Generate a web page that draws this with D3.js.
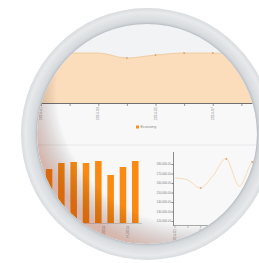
<!DOCTYPE html>
<html>
<head>
<meta charset="utf-8">
<script src="https://cdn.jsdelivr.net/npm/d3@7"></script>
<style>
  html, body { margin: 0; padding: 0; background: #fff; }
  svg { display: block; }
  text { font-family: "Liberation Sans", Arial, sans-serif; }
</style>
</head>
<body>
<svg id="chart"></svg>
<script>
// area chart (top)
var areaCats = ['2014-01', '2014-02', '2014-03', '2014-04', '2014-05', '2014-06', '2014-07', '2014-08', '2014-09'];
var areaVals = [96, 100, 100, 90, 96, 100, 100, 98, 98];
var areaTickLabels = ['2014-01', '2014-03', '2014-05', '2014-07'];
var legendLabel = 'Economy';

// bar chart (bottom left)
var barCats = ['A', 'B', 'C', 'D', 'E', 'F', 'G', 'H', 'I'];
var barVals = [60, 54, 60, 61, 60, 62, 48, 56, 62];
var barTickLabels = ['D', 'F', 'H'];

// line chart (bottom right)
var lineCats = ['1', '2', '3', '4', '5', '6', '7', '8'];
var lineVals = [165300, 163200, 154700, 168400, 185300, 156800, 182100, 184200];
var lineTicks = [120000, 130000, 140000, 150000, 160000, 170000, 180000];
var lineTickLabels = ['1', '3'];

var W = 259, H = 263;
var cx = 147, cy = 134, rOut = 126, rIn = 110;

var svg = d3.select('#chart').attr('width', W).attr('height', H);
var defs = svg.append('defs');

defs.append('clipPath').attr('id', 'inner')
  .append('circle').attr('cx', cx).attr('cy', cy).attr('r', rIn);

var ringGrad = defs.append('radialGradient').attr('id', 'ring')
  .attr('gradientUnits', 'userSpaceOnUse')
  .attr('cx', cx).attr('cy', cy).attr('r', rOut);
ringGrad.append('stop').attr('offset', rIn / rOut).attr('stop-color', '#c2c7cc');
ringGrad.append('stop').attr('offset', 0.9).attr('stop-color', '#d8dbde');
ringGrad.append('stop').attr('offset', 0.965).attr('stop-color', '#e7e9eb');
ringGrad.append('stop').attr('offset', 1).attr('stop-color', '#d9dcdf');

var shade = defs.append('radialGradient').attr('id', 'shade')
  .attr('gradientUnits', 'userSpaceOnUse')
  .attr('cx', cx + 45).attr('cy', cy - 45).attr('r', rIn + 55);
shade.append('stop').attr('offset', 0.82).attr('stop-color', '#000').attr('stop-opacity', 0);
shade.append('stop').attr('offset', 1).attr('stop-color', '#8a2000').attr('stop-opacity', 0.3);

var g = svg.append('g').attr('clip-path', 'url(#inner)');

// backgrounds
g.append('rect').attr('x', 0).attr('y', 0).attr('width', W).attr('height', H).attr('fill', '#f8f8f9');
g.append('rect').attr('x', 0).attr('y', 0).attr('width', W).attr('height', 103).attr('fill', '#f2f3f5');
g.append('line').attr('x1', 0).attr('x2', W).attr('y1', 145).attr('y2', 145)
  .attr('stroke', '#e6e7e9').attr('stroke-width', 1);

// ---- area chart ----
var ax = d3.scalePoint().domain(areaCats).range([41, 270]);
var ay = d3.scaleLinear().domain([0, 100]).range([103, 53]);

// one extra leading point so the fill reaches the left edge of the disc
var areaData = [areaVals[0]].concat(areaVals);
var extCats = ['pre'].concat(areaCats);
var ax2 = d3.scalePoint().domain(extCats).range([41 - ax.step(), 270]);

var area = d3.area()
  .x(function (d, i) { return ax2(extCats[i]); })
  .y0(ay(0))
  .y1(function (d) { return ay(d); })
  .curve(d3.curveMonotoneX);
var topLine = d3.line()
  .x(function (d, i) { return ax2(extCats[i]); })
  .y(function (d) { return ay(d); })
  .curve(d3.curveMonotoneX);

g.append('path').datum(areaData).attr('d', area).attr('fill', '#fbdcbb');
g.append('path').datum(areaData).attr('d', topLine)
  .attr('fill', 'none').attr('stroke', '#efc596').attr('stroke-width', 0.8);
g.selectAll('.adot').data(areaVals.slice(3, 7)).enter().append('circle')
  .attr('cx', function (d, i) { return ax(areaCats[i + 3]); })
  .attr('cy', function (d) { return ay(d); })
  .attr('r', 0.9).attr('fill', '#d9a672');

var aAxis = g.append('g').attr('transform', 'translate(0,103)')
  .call(d3.axisBottom(ax).tickSize(3).tickFormat(''));
aAxis.select('.domain').remove();
aAxis.selectAll('line').attr('stroke', '#999');
g.append('line').attr('x1', 0).attr('x2', W).attr('y1', 103.5).attr('y2', 103.5)
  .attr('stroke', '#6f6f6f').attr('stroke-width', 1);
g.selectAll('.alab').data(areaTickLabels).enter().append('text')
  .attr('transform', function (d) { return 'translate(' + (ax(d) + 1) + ',107) rotate(-90)'; })
  .attr('text-anchor', 'end').attr('font-size', 3.6).attr('fill', '#8a8a8a').text(function (d) { return d; });

// legend
g.append('rect').attr('x', 136).attr('y', 125.5).attr('width', 3).attr('height', 3).attr('fill', '#f5921e');
g.append('text').attr('x', 140.5).attr('y', 128.4).attr('font-size', 3.8).attr('fill', '#8b8b8b').text(legendLabel);

// ---- bar chart ----
var bx = d3.scaleBand().domain(barCats).range([31, 141]).paddingInner(0.47).paddingOuter(0.2);
var by = d3.scaleLinear().domain([0, 100]).range([223, 123]);

g.selectAll('.bar').data(barVals).enter().append('rect')
  .attr('x', function (d, i) { return bx(barCats[i]); })
  .attr('y', function (d) { return by(d); })
  .attr('width', bx.bandwidth())
  .attr('height', function (d) { return by(0) - by(d); })
  .attr('fill', '#fa8a12');

g.append('line').attr('x1', 30).attr('x2', 142).attr('y1', 223.5).attr('y2', 223.5)
  .attr('stroke', '#c9c9c9').attr('stroke-width', 0.8);
g.selectAll('.blab').data(barTickLabels).enter().append('text')
  .attr('transform', function (d) { return 'translate(' + (bx(d) + bx.bandwidth() + 3) + ',226) rotate(-90)'; })
  .attr('text-anchor', 'end').attr('font-size', 3.6).attr('fill', '#8a8a8a').text(function (d) { return d + '-2014'; });

// ---- line chart ----
var lx = d3.scalePoint().domain(lineCats).range([175, 265]);
var ly = d3.scaleLinear().domain([120000, 180000]).range([221, 164]);

var yAx = g.append('g').attr('transform', 'translate(173.5,0)')
  .call(d3.axisLeft(ly).tickValues(lineTicks).tickSize(2)
    .tickFormat(function (d) { return d3.format(',.2f')(d); }));
yAx.select('.domain').remove();
yAx.selectAll('line').attr('stroke', '#888');
yAx.selectAll('text').attr('font-size', 2.9).attr('fill', '#7c7c7c').attr('x', -2.5);
g.append('line').attr('x1', 173.5).attr('x2', 173.5).attr('y1', 152).attr('y2', 226)
  .attr('stroke', '#6f6f6f').attr('stroke-width', 0.8);
g.append('line').attr('x1', 173).attr('x2', 224).attr('y1', 225.5).attr('y2', 225.5)
  .attr('stroke', '#8a8a8a').attr('stroke-width', 0.7);
g.selectAll('.ltick').data(lineTickLabels.concat(['2'])).enter().append('line')
  .attr('x1', function (d) { return lx(d); }).attr('x2', function (d) { return lx(d); })
  .attr('y1', 225.5).attr('y2', 228).attr('stroke', '#999').attr('stroke-width', 0.6);
g.selectAll('.llab').data(lineTickLabels).enter().append('text')
  .attr('transform', function (d) { return 'translate(' + (lx(d) + 1.2) + ',229) rotate(-90)'; })
  .attr('text-anchor', 'end').attr('font-size', 3.6).attr('fill', '#8a8a8a').text(function (d) { return '2014-0' + d; });

var lineGen = d3.line()
  .x(function (d, i) { return lx(lineCats[i]); })
  .y(function (d) { return ly(d); })
  .curve(d3.curveCardinal);
g.append('path').datum(lineVals).attr('d', lineGen)
  .attr('fill', 'none').attr('stroke', '#f7d2a6').attr('stroke-width', 0.8);
g.selectAll('.ldot').data([2, 4, 6]).enter().append('circle')
  .attr('cx', function (i) { return lx(lineCats[i]); })
  .attr('cy', function (i) { return ly(lineVals[i]); })
  .attr('r', 0.9).attr('fill', '#d8a46e');

// inner edge shading, strongest bottom-left
g.append('circle').attr('cx', cx).attr('cy', cy).attr('r', rIn).attr('fill', 'url(#shade)');

// ---- bezel ring ----
var ringPath = d3.path();
ringPath.arc(cx, cy, rOut, 0, Math.PI * 2);
ringPath.moveTo(cx + rIn, cy);
ringPath.arc(cx, cy, rIn, 0, Math.PI * 2, true);
svg.append('path').attr('d', ringPath.toString()).attr('fill', 'url(#ring)').attr('fill-rule', 'evenodd');
svg.append('circle').attr('cx', cx).attr('cy', cy).attr('r', rIn + 0.5)
  .attr('fill', 'none').attr('stroke', '#b3b9bf').attr('stroke-width', 0.8).attr('opacity', 0.6);
</script>
</body>
</html>
